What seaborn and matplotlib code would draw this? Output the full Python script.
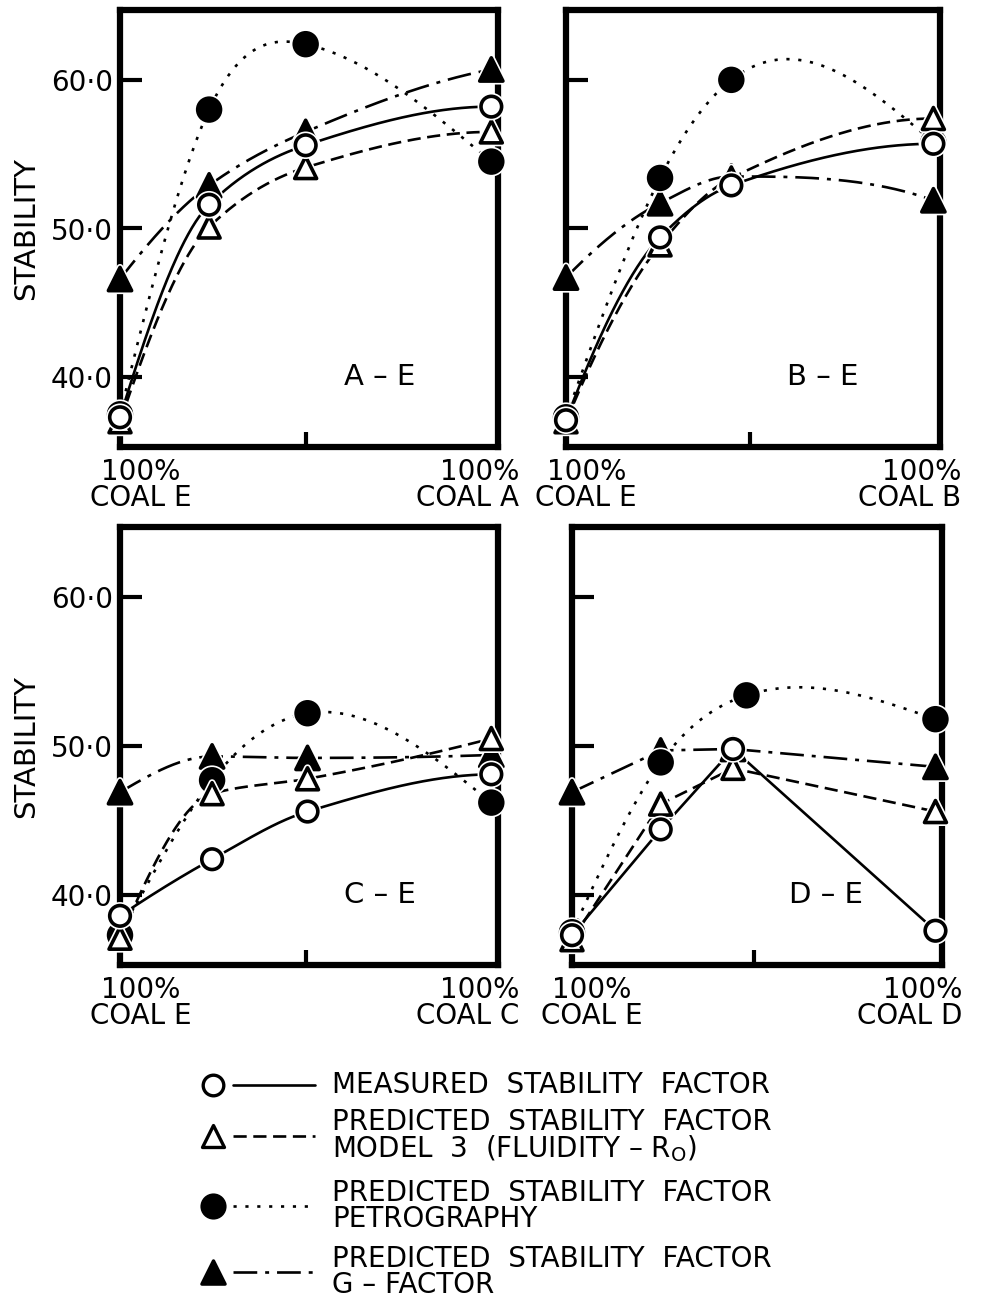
import numpy as np
import pandas as pd
import matplotlib
matplotlib.use("Agg")
import matplotlib.pyplot as plt
import seaborn as sns
from matplotlib import patheffects as pe
from matplotlib.transforms import blended_transform_factory

# ---------------- data ----------------
panel_names = ["A – E", "B – E", "C – E", "D – E"]
end_coals = ["A", "B", "C", "D"]

x_A = [0.0, 0.24, 0.50, 1.0]
measured_A = [37.3, 51.6, 55.6, 58.2]
model3_A = [37.0, 50.1, 54.1, 56.5]
petro_A = [37.5, 58.0, 62.4, 54.5]
gfactor_A = [46.6, 52.9, 56.5, 60.7]

x_B = [0.0, 0.256, 0.45, 1.0]
measured_B = [37.1, 49.4, 52.9, 55.7]
model3_B = [37.0, 48.9, 53.4, 57.4]
petro_B = [37.3, 53.4, 60.0, 55.8]
gfactor_B = [46.7, 51.7, 53.5, 51.9]

x_C = [0.0, 0.248, 0.505, 1.0]
measured_C = [38.6, 42.4, 45.6, 48.1]
model3_C = [37.1, 46.8, 47.8, 50.5]
petro_C = [37.3, 47.7, 52.2, 46.2]
gfactor_C = [46.9, 49.3, 49.2, 49.4]

x_D = [0.0, 0.244, 0.443, 1.0]
x_D_petro = [0.0, 0.244, 0.48, 1.0]
measured_D = [37.3, 44.4, 49.8, 37.6]
model3_D = [37.0, 46.1, 48.5, 45.6]
petro_D = [37.5, 48.9, 53.4, 51.8]
gfactor_D = [46.9, 49.7, 49.8, 48.6]

y_ticks = [40.0, 50.0, 60.0]
y_ticklabels = ["40·0", "50·0", "60·0"]

legend_labels = [
    "MEASURED  STABILITY  FACTOR",
    "PREDICTED  STABILITY  FACTOR\nMODEL  3  (FLUIDITY – R$_\\mathregular{O}$)",
    "PREDICTED  STABILITY  FACTOR\nPETROGRAPHY",
    "PREDICTED  STABILITY  FACTOR\nG – FACTOR",
]

# ------------- styles -------------
series_style = {
    "measured": dict(ls="-", marker="o", face="white", s=220, curve="mono"),
    "model3": dict(ls=(0, (5, 2.5)), marker="^", face="white", s=250, curve="mono"),
    "petro": dict(ls=(0, (1.2, 3.3)), marker="o", face="black", s=270, curve="spline"),
    "gfactor": dict(ls=(0, (9, 3, 1.5, 3)), marker="^", face="black", s=280, curve="mono"),
}
draw_order = ["gfactor", "petro", "model3", "measured"]

panels = [
    dict(name=panel_names[0], coal=end_coals[0],
         series={"measured": (x_A, measured_A), "model3": (x_A, model3_A),
                 "petro": (x_A, petro_A), "gfactor": (x_A, gfactor_A)},
         straight=set()),
    dict(name=panel_names[1], coal=end_coals[1],
         series={"measured": (x_B, measured_B), "model3": (x_B, model3_B),
                 "petro": (x_B, petro_B), "gfactor": (x_B, gfactor_B)},
         straight=set()),
    dict(name=panel_names[2], coal=end_coals[2],
         series={"measured": (x_C, measured_C), "model3": (x_C, model3_C),
                 "petro": (x_C, petro_C), "gfactor": (x_C, gfactor_C)},
         straight=set()),
    dict(name=panel_names[3], coal=end_coals[3],
         series={"measured": (x_D, measured_D), "model3": (x_D, model3_D),
                 "petro": (x_D_petro, petro_D), "gfactor": (x_D, gfactor_D)},
         straight={"measured", "model3", "gfactor"}),
]


def natural_spline(x, y, n=300):
    x = np.asarray(x, float)
    y = np.asarray(y, float)
    m = len(x)
    h = np.diff(x)
    A = np.zeros((m, m))
    r = np.zeros(m)
    A[0, 0] = A[-1, -1] = 1.0
    for i in range(1, m - 1):
        A[i, i - 1] = h[i - 1]
        A[i, i] = 2 * (h[i - 1] + h[i])
        A[i, i + 1] = h[i]
        r[i] = 3 * ((y[i + 1] - y[i]) / h[i] - (y[i] - y[i - 1]) / h[i - 1])
    c = np.linalg.solve(A, r)
    b = (y[1:] - y[:-1]) / h - h * (2 * c[:-1] + c[1:]) / 3
    d = (c[1:] - c[:-1]) / (3 * h)
    xs = np.linspace(x[0], x[-1], n)
    idx = np.clip(np.searchsorted(x, xs, side="right") - 1, 0, m - 2)
    dx = xs - x[idx]
    ys = y[idx] + b[idx] * dx + c[idx] * dx ** 2 + d[idx] * dx ** 3
    return xs, ys


def monotone_curve(x, y, n=300):
    x = np.asarray(x, float)
    y = np.asarray(y, float)
    h = np.diff(x)
    dl = np.diff(y) / h
    m = np.zeros(len(x))
    for k in range(1, len(x) - 1):
        if dl[k - 1] * dl[k] > 0:
            w1 = 2 * h[k] + h[k - 1]
            w2 = h[k] + 2 * h[k - 1]
            m[k] = (w1 + w2) / (w1 / dl[k - 1] + w2 / dl[k])

    def end(h0, h1, d0, d1):
        v = ((2 * h0 + h1) * d0 - h0 * d1) / (h0 + h1)
        if np.sign(v) != np.sign(d0):
            v = 0.0
        elif np.sign(d0) != np.sign(d1) and abs(v) > abs(3 * d0):
            v = 3 * d0
        return v

    m[0] = end(h[0], h[1], dl[0], dl[1])
    m[-1] = end(h[-1], h[-2], dl[-1], dl[-2])
    xs = np.linspace(x[0], x[-1], n)
    idx = np.clip(np.searchsorted(x, xs, side="right") - 1, 0, len(x) - 2)
    t = (xs - x[idx]) / h[idx]
    h00 = 2 * t ** 3 - 3 * t ** 2 + 1
    h10 = t ** 3 - 2 * t ** 2 + t
    h01 = -2 * t ** 3 + 3 * t ** 2
    h11 = t ** 3 - t ** 2
    ys = (h00 * y[idx] + h10 * h[idx] * m[idx] + h01 * y[idx + 1]
          + h11 * h[idx] * m[idx + 1])
    return xs, ys


sns.set_theme(style="white")
plt.rcParams["font.family"] = ["DejaVu Sans"]
plt.rcParams["mathtext.fontset"] = "dejavusans"
for k_ in ["text.color", "axes.labelcolor", "xtick.color", "ytick.color"]:
    plt.rcParams[k_] = "black"

W, H = 989, 1303
fig = plt.figure(figsize=(W / 100, H / 100), dpi=100)

# axes rectangles in pixel coords (left, top, right, bottom)
rects = [(120, 10, 498, 447), (566, 10, 940, 447),
         (120, 527, 498, 965), (572, 527, 942, 965)]

for k, (p, rc) in enumerate(zip(panels, rects)):
    l, t, r, b = rc
    ax = fig.add_axes([l / W, 1 - b / H, (r - l) / W, (b - t) / H])
    ax.set_xlim(0, 1.018)
    ax.set_ylim(35.3, 64.7)

    for key in draw_order:
        xs, ys = p["series"][key]
        st = series_style[key]
        if key in p["straight"]:
            cx, cy = np.asarray(xs), np.asarray(ys)
        elif st["curve"] == "spline":
            cx, cy = natural_spline(xs, ys)
        else:
            cx, cy = monotone_curve(xs, ys)
        sns.lineplot(x=cx, y=cy, ax=ax, color="black", lw=1.9,
                     linestyle=st["ls"], estimator=None, sort=False,
                     zorder=3, clip_on=False, legend=False)
    for key in draw_order:
        xs, ys = p["series"][key]
        st = series_style[key]
        sns.scatterplot(x=xs, y=ys, ax=ax, marker=st["marker"], s=st["s"],
                        color=st["face"], edgecolor="black", linewidth=2.6,
                        zorder=6, clip_on=False, legend=False)
    for coll in ax.collections:
        coll.set_path_effects([pe.withStroke(linewidth=5, foreground="white")])
        coll.set_clip_on(False)

    for sp in ax.spines.values():
        sp.set_visible(True)
        sp.set_linewidth(4.5)
        sp.set_color("black")
        sp.set_zorder(2)

    ax.set_yticks(y_ticks)
    ax.set_xticks([0.5])
    ax.set_xticklabels([])
    ax.tick_params(axis="y", direction="in", length=16, width=3, left=True,
                   right=False, labelsize=20, pad=5, colors="black")
    ax.tick_params(axis="x", direction="in", length=11, width=3, bottom=True,
                   top=False)
    ax.grid(False)
    if k % 2 == 0:
        ax.set_yticklabels(y_ticklabels)
        ax.set_ylabel("STABILITY", fontsize=21, labelpad=8)
    else:
        ax.set_yticklabels([])
        ax.set_ylabel("")
    ax.set_xlabel("")

    tr = blended_transform_factory(ax.transData, ax.transAxes)
    ax.text(0.055, -0.025, "100%\nCOAL E", transform=tr, ha="center", va="top",
            fontsize=20, linespacing=0.92)
    ax.text(1.075, -0.025, f"100%\nCOAL {p['coal']}", transform=tr, ha="right",
            va="top", fontsize=20, linespacing=0.92, multialignment="right")
    ax.text(0.70, 40.0, p["name"], ha="center", va="center", fontsize=21)

# ---------------- legend ----------------
lax = fig.add_axes([0, 0, 1, 1], zorder=-1)
lax.set_xlim(0, W)
lax.set_ylim(H, 0)
lax.axis("off")
leg_y = [1085, 1136, 1206, 1272]
for key, yv, lab in zip(["measured", "model3", "petro", "gfactor"], leg_y, legend_labels):
    st = series_style[key]
    lax.plot([233, 315], [yv, yv], color="black", lw=1.9, linestyle=st["ls"])
    lax.scatter([213], [yv], marker=st["marker"], s=st["s"], color=st["face"],
                edgecolor="black", linewidth=2.4, zorder=5)
    lax.text(332, yv, lab, ha="left", va="center", fontsize=20, linespacing=0.92)

fig.savefig("out.png", dpi=100)
